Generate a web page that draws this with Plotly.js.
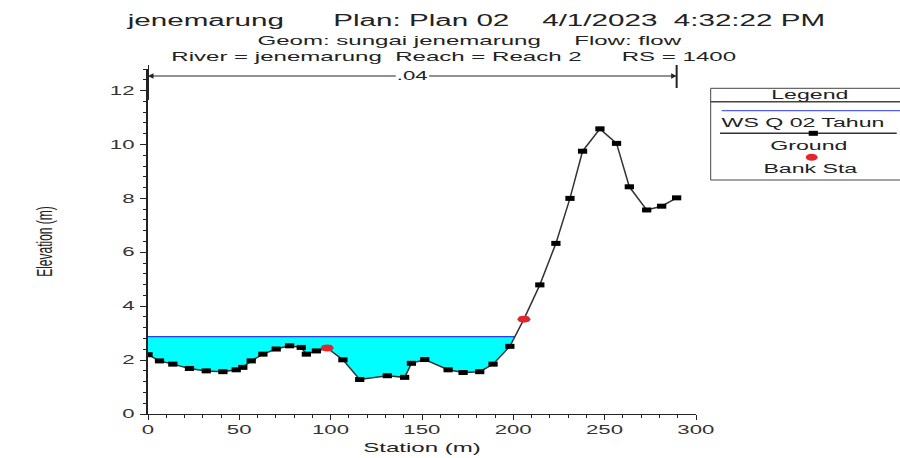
<!DOCTYPE html>
<html>
<head>
<meta charset="utf-8">
<script src="https://cdn.plot.ly/plotly-3.0.1.min.js"></script>
<style>
html,body{margin:0;padding:0;background:#ffffff;}
#chart{width:900px;height:458px;}
</style>
</head>
<body>
<div id="chart"></div>
<script>
// ---------------- data ----------------
const stations   = [0, 6.3, 13.6, 22.7, 31.9, 41, 48.3, 51.9, 56.5, 62.9, 70.2, 77.5, 83.9, 86.7, 92.2, 98.1, 106.7, 115.9, 131, 140.5, 144.2, 151.5, 164.3, 172.5, 181.6, 188.9, 198.1, 205.8, 214.5, 223.3, 231, 237.9, 247.4, 256.5, 263.5, 273, 281.2, 289.4];
const elevations = [2.2, 1.97, 1.85, 1.69, 1.60, 1.57, 1.64, 1.73, 1.97, 2.22, 2.41, 2.53, 2.47, 2.22, 2.34, 2.45, 2.01, 1.28, 1.42, 1.36, 1.88, 2.02, 1.64, 1.54, 1.57, 1.85, 2.51, 3.52, 4.79, 6.33, 8.0, 9.75, 10.58, 10.04, 8.43, 7.57, 7.71, 8.02];
const wsElevation = 2.87;
const bankStations = [98.1, 205.8];
const manningValues = ['.04'];
const seriesNames = ['WS Q 02 Tahun', 'Ground', 'Bank Sta'];
const legendTitle = 'Legend';
const titleLines = [
  'jenemarung\u00a0\u00a0\u00a0\u00a0\u00a0\u00a0Plan: Plan 02\u00a0\u00a0\u00a0\u00a04/1/2023\u00a0\u00a04:32:22 PM',
  'Geom: sungai jenemarung\u00a0\u00a0\u00a0\u00a0\u00a0Flow: flow',
  'River = jenemarung\u00a0\u00a0Reach = Reach 2\u00a0\u00a0\u00a0\u00a0\u00a0\u00a0RS = 1400'
];
const xAxisTitle = 'Station (m)';
const yAxisTitle = 'Elevation (m)';

// ---------------- geometry helpers ----------------
const W = 900, H = 458;
const M = {l: 148, r: 204, t: 69, b: 44};
const PW = W - M.l - M.r, PH = H - M.t - M.b;
const px = v => (v - M.l) / PW;        // pixel x -> paper x
const py = v => (H - M.b - v) / PH;    // pixel y -> paper y
const STRETCH = 1.85;
const FONT = 'Liberation Sans, Arial, Helvetica, sans-serif';
const TXT = '#222222';

// wetted part of the section (ground below the water surface, ending at the crossing)
const wetX = [], wetY = [];
for (let i = 0; i < stations.length; i++) {
  if (elevations[i] <= wsElevation) { wetX.push(stations[i]); wetY.push(elevations[i]); }
  else {
    if (i > 0 && elevations[i - 1] <= wsElevation) {
      const f = (wsElevation - elevations[i - 1]) / (elevations[i] - elevations[i - 1]);
      wetX.push(stations[i - 1] + f * (stations[i] - stations[i - 1]));
      wetY.push(wsElevation);
    }
    break;
  }
}
const wsEnd = wetX[wetX.length - 1];
const bankElev = bankStations.map(s => elevations[stations.indexOf(s)]);

const nLeft = stations[0], nRight = stations[stations.length - 1], nMid = (nLeft + nRight) / 2;

// ---------------- traces ----------------
const traces = [
  {x: wetX, y: wetY, mode: 'lines', line: {width: 0, color: 'rgba(0,0,0,0)'}, showlegend: false, hoverinfo: 'skip'},
  {x: [nLeft, wsEnd], y: [wsElevation, wsElevation], mode: 'lines', name: seriesNames[0],
   line: {color: '#2b3cff', width: 1.2}, fill: 'tonexty', fillcolor: '#00ffff', showlegend: false},
  {x: stations, y: elevations, mode: 'lines+markers', name: seriesNames[1],
   line: {color: '#333333', width: 1.5}, marker: {symbol: 'square', size: 5, color: '#000000'}, showlegend: false},
  {x: bankStations, y: bankElev, mode: 'markers', name: seriesNames[2],
   marker: {symbol: 'circle', size: 7, color: '#e3262d'}, showlegend: false}
];

// ---------------- layout ----------------
const tickFont = {family: FONT, size: 12, color: '#333333'};
const annFont = s => ({family: FONT, size: s, color: TXT});
const manY = py(76);

const shapes = [
  // Manning's n extent bars
  {type: 'line', xref: 'x', yref: 'paper', x0: nLeft, x1: nLeft, y0: py(100), y1: py(65), line: {color: TXT, width: 2}},
  {type: 'line', xref: 'x', yref: 'paper', x0: nRight, x1: nRight, y0: py(88), y1: py(65), line: {color: TXT, width: 2}},
  // legend box
  {type: 'rect', xref: 'paper', yref: 'paper', x0: px(710.7), x1: px(906), y0: py(180), y1: py(88.3), line: {color: '#444444', width: 1}, fillcolor: 'rgba(0,0,0,0)'},
  {type: 'line', xref: 'paper', yref: 'paper', x0: px(710.7), x1: px(906), y0: py(101.7), y1: py(101.7), line: {color: '#444444', width: 1.5}},
  {type: 'line', xref: 'paper', yref: 'paper', x0: px(721.7), x1: px(906), y0: py(110.7), y1: py(110.7), line: {color: '#2b3cff', width: 1}},
  {type: 'line', xref: 'paper', yref: 'paper', x0: px(720), x1: px(896.7), y0: py(133.3), y1: py(133.3), line: {color: '#333333', width: 1.5}},
  {type: 'rect', xref: 'paper', yref: 'paper', xsizemode: 'pixel', ysizemode: 'pixel', xanchor: px(813.3), yanchor: py(133.3),
   x0: -4.6, x1: 4.6, y0: -2.5, y1: 2.5, line: {width: 0}, fillcolor: '#000000'},
  {type: 'circle', xref: 'paper', yref: 'paper', xsizemode: 'pixel', ysizemode: 'pixel', xanchor: px(811.7), yanchor: py(157.3),
   x0: -6, x1: 6, y0: -3.5, y1: 3.5, line: {width: 0}, fillcolor: '#e3262d'}
];

const annotations = [
  {xref: 'paper', yref: 'paper', x: px(469.5), y: py(40.5), text: titleLines[1], showarrow: false, xanchor: 'center', yanchor: 'middle', borderpad: 0, font: annFont(13)},
  {xref: 'paper', yref: 'paper', x: px(453), y: py(56.5), text: titleLines[2], showarrow: false, xanchor: 'center', yanchor: 'middle', borderpad: 0, font: annFont(13)},
  // Manning's n arrows and value
  {xref: 'x', yref: 'paper', x: nLeft, y: manY, axref: 'x', ayref: 'pixel', ax: nMid, ay: 0, text: '', showarrow: true,
   arrowhead: 2, arrowsize: 1.1, arrowwidth: 1, arrowcolor: TXT, standoff: 0},
  {xref: 'x', yref: 'paper', x: nRight, y: manY, axref: 'x', ayref: 'pixel', ax: nMid, ay: 0, text: '', showarrow: true,
   arrowhead: 2, arrowsize: 1.1, arrowwidth: 1, arrowcolor: TXT, standoff: 0},
  {xref: 'x', yref: 'paper', x: nMid, y: manY, text: manningValues[0], showarrow: false, xanchor: 'center', yanchor: 'middle',
   bgcolor: '#ffffff', borderpad: 0, font: annFont(12)},
  // legend texts
  {xref: 'paper', yref: 'paper', x: px(810), y: py(95), text: legendTitle, showarrow: false, xanchor: 'center', yanchor: 'middle', font: annFont(12.5)},
  {xref: 'paper', yref: 'paper', x: px(803), y: py(122.7), text: seriesNames[0], showarrow: false, xanchor: 'center', yanchor: 'middle', font: annFont(12.5)},
  {xref: 'paper', yref: 'paper', x: px(808.5), y: py(146), text: seriesNames[1], showarrow: false, xanchor: 'center', yanchor: 'middle', font: annFont(12.5)},
  {xref: 'paper', yref: 'paper', x: px(810), y: py(169.3), text: seriesNames[2], showarrow: false, xanchor: 'center', yanchor: 'middle', font: annFont(12.5)}
];

const layout = {
  width: W, height: H,
  margin: M,
  paper_bgcolor: '#ffffff', plot_bgcolor: '#ffffff',
  showlegend: false,
  font: {family: FONT, color: TXT},
  title: {text: titleLines[0], xref: 'paper', x: px(476), xanchor: 'center', yref: 'container', y: 1 - 20 / H, yanchor: 'middle',
          font: {family: FONT, size: 16, color: TXT}},
  xaxis: {range: [0, 300], tick0: 0, dtick: 50, showgrid: false, zeroline: false, showline: true, linecolor: TXT, linewidth: 1,
          ticks: 'outside', ticklen: 5, tickcolor: TXT, tickfont: tickFont,
          minor: {dtick: 10, ticks: 'outside', ticklen: 3, tickcolor: TXT, showgrid: false},
          title: {text: xAxisTitle, font: {family: FONT, size: 13, color: TXT}, standoff: 6}, fixedrange: true},
  yaxis: {range: [0, 12.8], tick0: 0, dtick: 2, showgrid: false, zeroline: false, showline: true, linecolor: TXT, linewidth: 1.8,
          ticks: 'outside', ticklen: 6, tickcolor: TXT, tickfont: tickFont, ticklabelstandoff: 3,
          minor: {dtick: 0.4, ticks: 'outside', ticklen: 3, tickcolor: TXT, showgrid: false},
          title: {text: yAxisTitle, font: {family: FONT, size: 12, color: TXT}, standoff: 70}, fixedrange: true},
  shapes: shapes,
  annotations: annotations
};

// horizontally widen texts and markers to match the wide look of the reference picture
function widen(gd) {
  const S = STRETCH;
  gd.querySelectorAll('svg text').forEach(t => {
    if (t.getAttribute('data-wide')) return;
    t.setAttribute('data-wide', '1');
    let bb;
    try { bb = t.getBBox(); } catch (e) { return; }
    if (!bb || !bb.width) return;
    const tr = t.getAttribute('transform') || '';
    if (/rotate\(\s*-?90/.test(tr)) {
      const cy = bb.y + bb.height / 2;
      t.setAttribute('transform', tr + ' translate(0,' + cy + ') scale(1,' + S + ') translate(0,' + (-cy) + ')');
    } else {
      const a = t.getAttribute('text-anchor') || 'start';
      const ax = a === 'middle' ? bb.x + bb.width / 2 : (a === 'end' ? bb.x + bb.width : bb.x);
      t.setAttribute('transform', tr + ' translate(' + ax + ',0) scale(' + S + ',1) translate(' + (-ax) + ',0)');
    }
  });
  gd.querySelectorAll('.annotation rect.bg').forEach(r => {
    const w = parseFloat(r.getAttribute('width')) || 0;
    const x = parseFloat(r.getAttribute('x')) || 0;
    if (!w) return;
    r.setAttribute('x', x - (S - 1) * w / 2);
    r.setAttribute('width', w * S);
  });
  gd.querySelectorAll('.scatterlayer path.point').forEach(p => {
    const tr = p.getAttribute('transform') || '';
    if (!/scale/.test(tr)) p.setAttribute('transform', tr + ' scale(' + S + ',1)');
  });
}

const gd = document.getElementById('chart');
Plotly.newPlot(gd, traces, layout, {staticPlot: true, displayModeBar: false, responsive: false}).then(() => widen(gd));
</script>
</body>
</html>
